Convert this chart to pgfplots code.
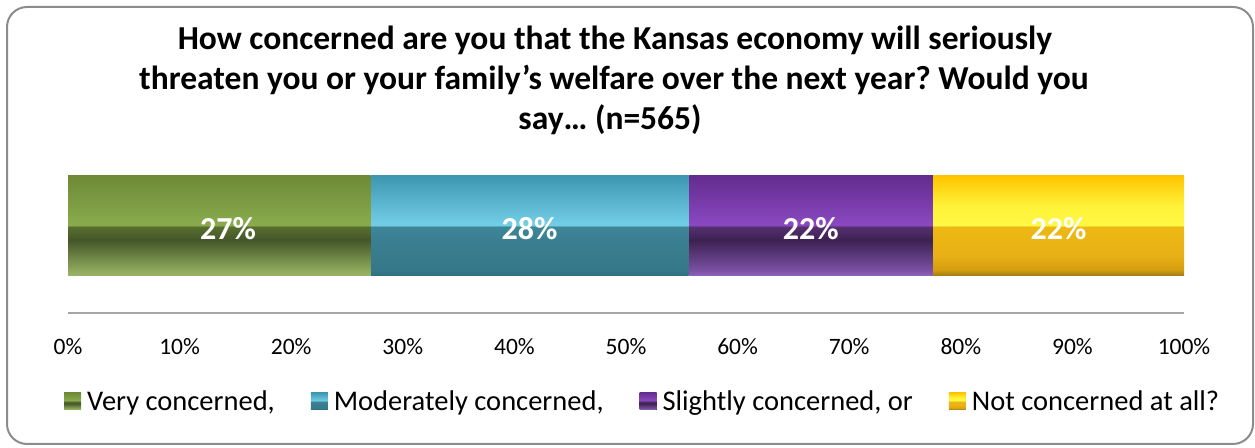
\documentclass[border=0pt]{standalone}
\usepackage{fontspec}
\setmainfont{Carlito}
\usepackage{pgfplots}
\pgfplotsset{compat=1.18}
\definecolor{framegray}{HTML}{8C8C8C}
\definecolor{axisgray}{HTML}{A6A6A6}
\pgfdeclareverticalshading{greenbevel}{100bp}{%
  color(0bp)=(rgb,255:red,154;green,181;blue,106);
  color(25bp)=(rgb,255:red,154;green,181;blue,106);
  color(28bp)=(rgb,255:red,141;green,169;blue,90);
  color(43bp)=(rgb,255:red,68;green,86;blue,42);
  color(49.5bp)=(rgb,255:red,88;green,110;blue,46);
  color(50.5bp)=(rgb,255:red,138;green,171;blue,77);
  color(75bp)=(rgb,255:red,110;green,138;blue,54);
  color(100bp)=(rgb,255:red,110;green,138;blue,54)}
\pgfdeclareverticalshading{tealbevel}{100bp}{%
  color(0bp)=(rgb,255:red,47;green,110;blue,128);
  color(25bp)=(rgb,255:red,47;green,110;blue,128);
  color(28bp)=(rgb,255:red,53;green,120;blue,137);
  color(43bp)=(rgb,255:red,58;green,127;blue,145);
  color(49.5bp)=(rgb,255:red,61;green,133;blue,151);
  color(50.5bp)=(rgb,255:red,115;green,206;blue,232);
  color(75bp)=(rgb,255:red,62;green,151;blue,176);
  color(100bp)=(rgb,255:red,62;green,151;blue,176)}
\pgfdeclareverticalshading{purplebevel}{100bp}{%
  color(0bp)=(rgb,255:red,144;green,100;blue,189);
  color(25bp)=(rgb,255:red,144;green,100;blue,189);
  color(28bp)=(rgb,255:red,122;green,80;blue,162);
  color(43bp)=(rgb,255:red,61;green,33;blue,82);
  color(49.5bp)=(rgb,255:red,85;green,48;blue,111);
  color(50.5bp)=(rgb,255:red,139;green,73;blue,194);
  color(75bp)=(rgb,255:red,99;green,44;blue,142);
  color(100bp)=(rgb,255:red,99;green,44;blue,142)}
\pgfdeclareverticalshading{goldbevel}{100bp}{%
  color(0bp)=(rgb,255:red,156;green,122;blue,24);
  color(25bp)=(rgb,255:red,156;green,122;blue,24);
  color(28bp)=(rgb,255:red,212;green,156;blue,16);
  color(35bp)=(rgb,255:red,232;green,176;blue,21);
  color(49.5bp)=(rgb,255:red,237;green,184;blue,20);
  color(50.5bp)=(rgb,255:red,255;green,248;blue,69);
  color(60bp)=(rgb,255:red,255;green,242;blue,58);
  color(75bp)=(rgb,255:red,255;green,196;blue,0);
  color(100bp)=(rgb,255:red,255;green,196;blue,0)}
\frenchspacing
\begin{document}
\begin{tikzpicture}[x=1bp,y=1bp]
\path (0,0) rectangle (1255,448);
\draw[framegray, line width=2bp, rounded corners=20bp] (7,4) rectangle (1253,441);
\node[anchor=base, font=\fontsize{33.5bp}{40bp}\selectfont\bfseries] at (615,398) {How concerned are you that the Kansas economy will seriously};
\node[anchor=base, font=\fontsize{33.5bp}{40bp}\selectfont\bfseries] at (614,358) {threaten you or your family’s welfare over the next year? Would you};
\node[anchor=base, font=\fontsize{33.5bp}{40bp}\selectfont\bfseries] at (610,318) {say… (n=565)};
\begin{axis}[
  at={(68bp,135bp)}, anchor=south west,
  width=1116bp, height=174bp, scale only axis,
  xbar stacked, bar width=100bp,
  xmin=0, xmax=100, ymin=-1, ymax=1,
  axis x line*=bottom, hide y axis,
  axis line style={axisgray, line width=1.5bp},
  xtick={0,10,...,100}, major tick length=0pt,
  xticklabel={\pgfmathprintnumber{\tick}\%},
  xticklabel style={anchor=base, yshift=-42bp, font=\fontsize{23.5bp}{28bp}\selectfont},
  /pgf/number format/assume math mode=true,
  legend columns=4,
  legend style={draw=none, fill=none, at={(0.515,-0.506)}, anchor=center,
    font=\fontsize{28.5bp}{32bp}\selectfont,
    /tikz/every odd column/.append style={column sep=4bp},
    /tikz/every even column/.append style={column sep=34bp}},
  legend image code/.code={\fill[#1] (0bp,-8.5bp) rectangle (17bp,8.5bp);},
]
\addplot[draw=none, shading=greenbevel] coordinates {(27.1,0)};
\addplot[draw=none, shading=tealbevel] coordinates {(28.5,0)};
\addplot[draw=none, shading=purplebevel] coordinates {(21.9,0)};
\addplot[draw=none, shading=goldbevel] coordinates {(22.5,0)};
\legend{{Very concerned,}, {Moderately concerned,}, {Slightly concerned, or}, {Not concerned at all?}}
\coordinate (l1) at (axis cs:14.34,0);
\coordinate (l2) at (axis cs:41.35,0);
\coordinate (l3) at (axis cs:66.55,0);
\coordinate (l4) at (axis cs:88.75,0);
\end{axis}
\begin{scope}[every node/.style={anchor=base, yshift=-14bp, text=white, font=\fontsize{32bp}{38bp}\selectfont\bfseries}]
\node at (l1) {27\%};
\node at (l2) {28\%};
\node at (l3) {22\%};
\node at (l4) {22\%};
\end{scope}
\end{tikzpicture}
\end{document}
